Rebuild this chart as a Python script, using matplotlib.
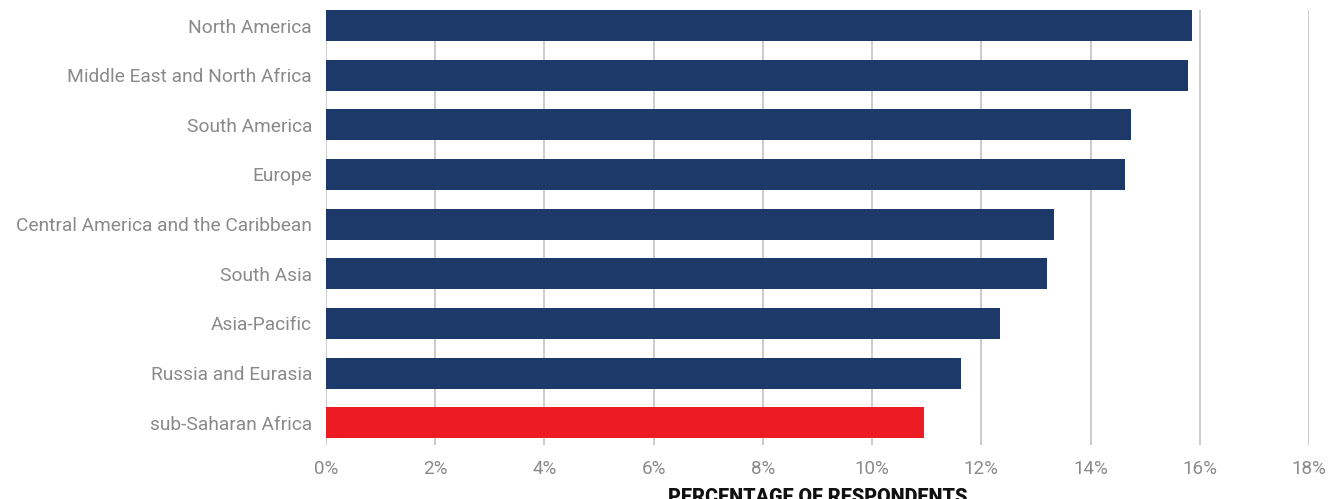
import matplotlib
matplotlib.use("Agg")
import matplotlib.pyplot as plt
from matplotlib.ticker import FuncFormatter

regions = [
    "North America",
    "Middle East and North Africa",
    "South America",
    "Europe",
    "Central America and the Caribbean",
    "South Asia",
    "Asia-Pacific",
    "Russia and Eurasia",
    "sub-Saharan Africa",
]
shares = [15.86, 15.79, 14.74, 14.63, 13.33, 13.21, 12.34, 11.63, 10.95]
highlight = "sub-Saharan Africa"
x_ticks = [0, 2, 4, 6, 8, 10, 12, 14, 16, 18]

NAVY = "#1d396a"
RED = "#ed1c24"
GREY_TEXT = "#8a8a8a"
GRID = "#c4c4c4"

plt.rcParams["font.family"] = ["Roboto", "DejaVu Sans"]

W, H = 1341, 499
fig = plt.figure(figsize=(W / 100, H / 100), dpi=100)
ax = fig.add_axes([326 / W, 1 - 445 / H, (1309 - 326) / W, (445 - 10) / H])

colors = [RED if r == highlight else NAVY for r in regions]
ypos = list(range(len(regions)))
ax.barh(ypos, shares, height=0.625, color=colors, zorder=3)

ax.set_xlim(0, 18)
ax.set_ylim(8.45, -0.3125)
ax.set_xticks(x_ticks)
ax.xaxis.set_major_formatter(FuncFormatter(lambda v, p: f"{v:.0f}%"))
ax.set_yticks(ypos)
ax.set_yticklabels(regions)

ax.grid(axis="x", color=GRID, linewidth=1.2, zorder=0)
ax.grid(axis="y", visible=False)
for s in ax.spines.values():
    s.set_visible(False)

ax.tick_params(axis="x", length=0, pad=11, labelsize=13.5, labelcolor=GREY_TEXT)
ax.tick_params(axis="y", length=0, pad=10, labelsize=13.8, labelcolor=GREY_TEXT)

ax.text(0.5, -0.099, "PERCENTAGE OF RESPONDENTS", transform=ax.transAxes,
        ha="center", va="top", fontsize=14.2, fontweight="black", color="#111111")

fig.savefig("out.png", dpi=100)
